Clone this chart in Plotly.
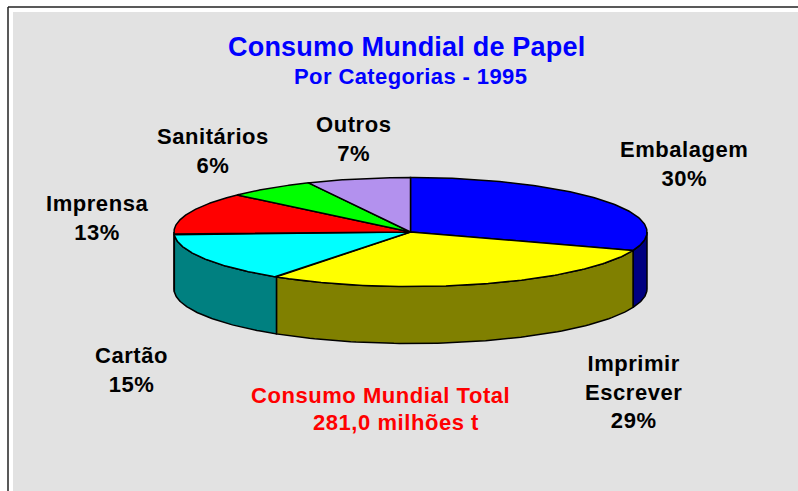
import numpy as np
import plotly.graph_objects as go

categories = ["Embalagem", "Imprimir<br>Escrever", "Cartão", "Imprensa", "Sanitários", "Outros"]
shares = [30.49, 29.1, 14.61, 12.7, 6.0, 7.1]
top_colors = ["#0000FF", "#FFFF00", "#00FFFF", "#FF0000", "#00FF00", "#B391EE"]
wall_colors = ["#000080", "#808000", "#008080", "#800000", "#008000", "#5A4877"]
label_xy = [(684, 164), (633, 392), (131, 370), (97, 218), (213, 151), (353, 139)]

CX, CY, RX, RY, DEPTH = 410.5, 232.0, 236.5, 54.5, 57.0
FONT = "Liberation Sans, Arial, sans-serif"


def ellipse(a_deg, dy=0.0):
    a = np.radians(a_deg)
    return CX + RX * np.sin(a), CY + dy + RY * (-np.cos(a))


def styled(text, spacing):
    lines = text.split("<br>")
    return "<br>".join(f'<span style="letter-spacing:{spacing}px"><b>{s}</b></span>' for s in lines)


fig = go.Figure()
edges = np.concatenate([[0], np.cumsum(shares)]) * 360 / sum(shares)

# side walls (front half only: angles 90..270 clockwise from 12 o'clock)
for i in range(len(shares)):
    lo, hi = max(edges[i], 90), min(edges[i + 1], 270)
    if hi <= lo:
        continue
    t = np.linspace(lo, hi, 80)
    x1, y1 = ellipse(t)
    x2, y2 = ellipse(t[::-1], DEPTH)
    fig.add_trace(go.Scatter(
        x=np.r_[x1, x2, x1[0]], y=np.r_[y1, y2, y1[0]], mode="lines", fill="toself",
        fillcolor=wall_colors[i], line=dict(color="black", width=1.5),
        hoverinfo="skip", showlegend=False))

# top faces
for i in range(len(shares)):
    t = np.linspace(edges[i], edges[i + 1], 120)
    x1, y1 = ellipse(t)
    fig.add_trace(go.Scatter(
        x=np.r_[CX, x1, CX], y=np.r_[CY, y1, CY], mode="lines", fill="toself",
        fillcolor=top_colors[i], line=dict(color="black", width=1.5),
        hoverinfo="text", text=f"{categories[i]} {shares[i]:.0f}%", showlegend=False))

annotations = [
    dict(x=lx, y=ly, text=styled(f"{c}<br>{s:.0f}%", 0.55), font=dict(size=22, color="black"))
    for c, s, (lx, ly) in zip(categories, shares, label_xy)
]
annotations += [
    dict(x=406, y=47, text=styled("Consumo Mundial de Papel", 0.2), font=dict(size=27, color="#0000FF")),
    dict(x=410, y=76, text=styled("Por Categorias - 1995", 0.4), font=dict(size=22, color="#0000FF")),
    dict(x=380, y=395, text=styled("Consumo Mundial Total", 0.55), font=dict(size=22, color="#FF0000")),
    dict(x=396, y=422, text=styled("281,0 milhões t", 0.55), font=dict(size=22, color="#FF0000")),
]
for a in annotations:
    a.update(xref="x", yref="y", showarrow=False, xanchor="center", yanchor="middle")
    a["font"]["family"] = FONT

fig.update_layout(
    width=798, height=491, autosize=False,
    margin=dict(l=0, r=0, t=0, b=0),
    paper_bgcolor="white", plot_bgcolor="white",
    xaxis=dict(range=[0, 798], visible=False, fixedrange=True),
    yaxis=dict(range=[491, 0], visible=False, fixedrange=True),
    annotations=annotations,
    shapes=[
        dict(type="rect", xref="x", yref="y", x0=13, y0=12, x1=798, y1=491,
             fillcolor="#E2E2E2", line_width=0, layer="below"),
        dict(type="line", xref="x", yref="y", x0=8, y0=7, x1=798, y1=7,
             line=dict(color="#222222", width=1.5), layer="below"),
        dict(type="line", xref="x", yref="y", x0=8, y0=7, x1=8, y1=491,
             line=dict(color="#222222", width=1.5), layer="below"),
    ],
)
fig.write_html("out.html", config=dict(displayModeBar=False),
               post_script="document.body.style.margin='0';document.documentElement.style.overflow='hidden';")
